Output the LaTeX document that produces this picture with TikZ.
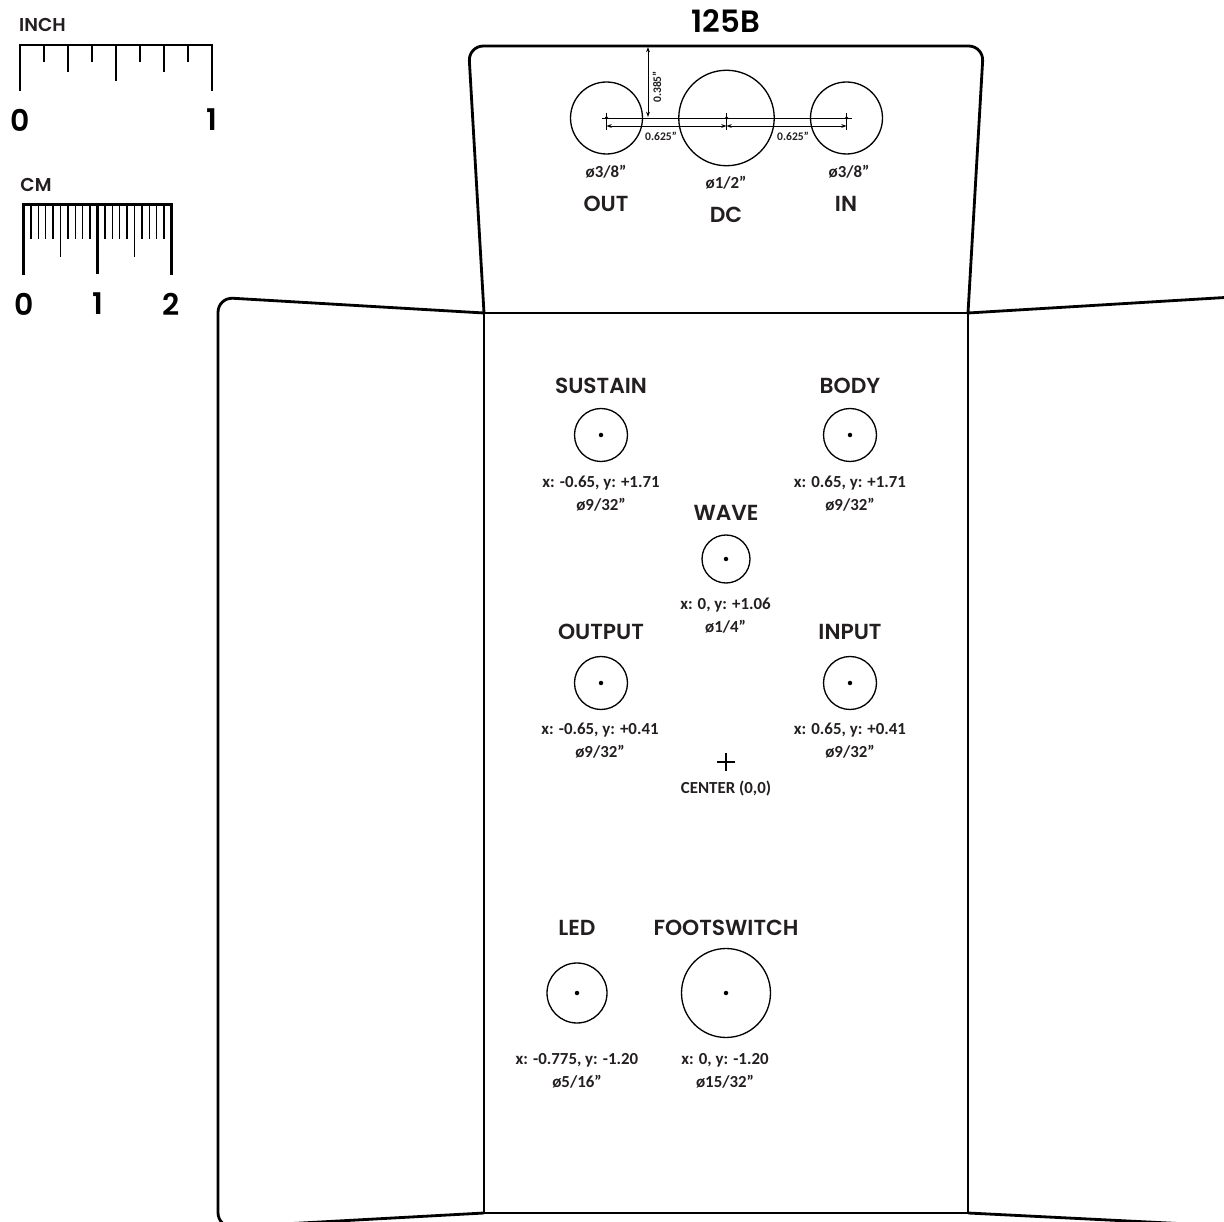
\documentclass[tikz,border=0pt]{standalone}
\usepackage{fontspec}
\setmainfont{Carlito}
\newfontfamily\headfont{Poppins SemiBold}
\definecolor{ink}{HTML}{231F20}
\usetikzlibrary{arrows.meta}
\usetikzlibrary{positioning}

\begin{document}
\begin{tikzpicture}[x=0.02cm,y=-0.02cm,
    edge/.style={line width=1.6pt,black},
    thin tick/.style={line width=0.7pt,black},
    hole/.style={circle,draw=black,line width=0.75pt,inner sep=0pt},
    pin/.style={circle,fill=black,inner sep=0pt,minimum size=0.09cm},
    head/.style={font=\headfont\fontsize{12.4pt}{14pt}\selectfont,text=ink,inner sep=0pt},
    small head/.style={font=\headfont\fontsize{10.6pt}{12pt}\selectfont,text=ink,inner sep=0pt},
    big/.style={font=\headfont\fontsize{17pt}{18pt}\selectfont,text=black,inner sep=0pt},
    spec/.style={font=\fontsize{9.6pt}{13pt}\selectfont\bfseries,text=ink,align=center,inner sep=0pt},
    dim/.style={font=\fontsize{6.6pt}{7pt}\selectfont\bfseries,text=ink,inner sep=0pt},
    dimline/.style={line width=0.5pt,black,{Stealth[length=3pt,width=2.2pt]}-{Stealth[length=3pt,width=2.2pt]}}]
  \useasboundingbox (0,0) rectangle (1224,1222);
  \clip (0,0) rectangle (1224,1222);

  % inch ruler
  \node[small head] (inchlabel) at (42.5,25) {INCH};
  \draw[edge,line cap=rect] (20,90) -- (20,45) -- (212,45) -- (212,90);
  \draw[line width=1.1pt] (116,45) -- (116,81);
  \foreach \x in {68,164} \draw[line width=0.8pt] (\x,45) -- (\x,72);
  \foreach \x in {44,92,140,188} \draw[thin tick] (\x,45) -- (\x,62);
  \node[big] (inchzero) at (20,120) {0};
  \node[big] (inchone) at (212,120) {1};

  % cm ruler
  \node[small head] (cmlabel) at (36,185) {CM};
  \draw[edge,line cap=rect] (23.5,274) -- (23.5,204.5) -- (171.5,204.5) -- (171.5,274);
  \draw[line width=1.2pt] (97.5,204.5) -- (97.5,274);
  \foreach \x in {60.5,134.5} \draw[line width=1pt] (\x,204.5) -- (\x,257);
  \foreach \n in {1,2,3,4,6,7,8,9,11,12,13,14,16,17,18,19}
    \draw[thin tick] (23.5+7.4*\n,204.5) -- (23.5+7.4*\n,239);
  \node[big] (cmzero) at (24,304) {0};
  \node[big] (cmone) at (97.5,304) {1};
  \node[big] (cmtwo) at (171,304) {2};

  % box outline
  \draw[edge,rounded corners=0.3cm] (484,313) -- (468.5,46) -- (983.5,46) -- (968,313);
  \draw[edge,rounded corners=0.3cm] (484,313) -- (218,297.4) -- (218,1227.6) -- (484,1213);
  \draw[edge] (968,313) -- (1240,296.6);
  \draw[edge] (968,1213) -- (1240,1226.6);
  \draw[edge] (484,313) rectangle (968,1213);

  % top side
  \node[big,font=\headfont\fontsize{17.5pt}{18pt}\selectfont] (title) at (726,21) {125B};
  \node[hole,minimum size=1.44cm] (outjack) at (606.5,118) {};
  \node[hole,minimum size=1.91cm] (dcjack) at (726.5,118) {};
  \node[hole,minimum size=1.44cm] (injack) at (846.5,118) {};
  \foreach \nm in {outjack,dcjack,injack} {
    \node[pin,minimum size=0.07cm] (\nm pin) at (\nm.center) {};
    \draw[line width=0.55pt] ([yshift=0.1cm]\nm.center) -- ([yshift=-0.24cm]\nm.center);
  }
  \coordinate (lineleft) at ([xshift=-0.1cm]outjack.center);
  \coordinate (lineright) at ([xshift=0.1cm]injack.center);
  \draw[line width=0.5pt] (lineleft) -- (lineright);
  \draw[dimline] ([yshift=-0.16cm]outjack.center) -- ([yshift=-0.16cm]dcjack.center);
  \draw[dimline] ([yshift=-0.16cm]dcjack.center) -- ([yshift=-0.16cm]injack.center);
  \coordinate (topedge) at (648,47);
  \coordinate (topfoot) at (648,117);
  \draw[dimline] (topedge) -- (topfoot);
  \node[dim,rotate=90] (depthlabel) at (657,87) {0.385”};
  \node[dim] (leftlabel) at (661,136) {0.625”};
  \node[dim] (rightlabel) at (793,136) {0.625”};
  \node[spec] (outsize) at (606,172) {ø3/8”};
  \node[spec] (dcsize) at (726,183) {ø1/2”};
  \node[spec] (insize) at (849,172) {ø3/8”};
  \node[head] (outname) at (606,204) {OUT};
  \node[head] (dcname) at (726,215) {DC};
  \node[head] (inname) at (846,204) {IN};

  % face: name, label, x, label y, hole y, diameter, spec x, spec y, coordinates, size
  \foreach \nm/\lab/\x/\ly/\hy/\dia/\sx/\sy/\pos/\sz in {
      sustain/SUSTAIN/601/386/435/1.06/601/493.5/{x: -0.65, y: +1.71}/{ø9/32”},
      body/BODY/850/386/435/1.06/850/493.5/{x: 0.65, y: +1.71}/{ø9/32”},
      wave/WAVE/726/513/559/0.96/725.5/615.5/{x: 0, y: +1.06}/{ø1/4”},
      output/OUTPUT/601/632/683/1.06/600/740.5/{x: -0.65, y: +0.41}/{ø9/32”},
      input/INPUT/850/632/683/1.06/850/740.5/{x: 0.65, y: +0.41}/{ø9/32”},
      led/LED/577/928/993/1.2/577/1070.5/{x: -0.775, y: -1.20}/{ø5/16”},
      footswitch/FOOTSWITCH/726/928/993/1.78/725/1070.5/{x: 0, y: -1.20}/{ø15/32”}} {
    \node[head] (\nm name) at (\x,\ly) {\lab};
    \node[hole,minimum size=\dia cm] (\nm) at (\x,\hy) {};
    \node[pin] (\nm pin) at (\nm.center) {};
    \node[spec] (\nm spec) at (\sx,\sy) {\pos\\\sz};
  }

  \coordinate (centerpoint) at (726,762);
  \draw[line width=1.1pt] ([xshift=-0.18cm]centerpoint) -- ([xshift=0.18cm]centerpoint);
  \draw[line width=1.1pt] ([yshift=-0.18cm]centerpoint) -- ([yshift=0.18cm]centerpoint);
  \node[spec] (centerlabel) at (726,789) {CENTER (0,0)};
\end{tikzpicture}
\end{document}
